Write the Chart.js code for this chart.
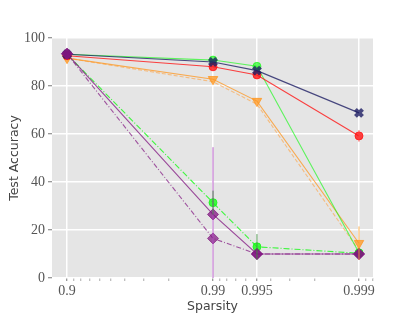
<!DOCTYPE html>
<html>
<head>
<meta charset="utf-8">
<script src="https://cdn.jsdelivr.net/npm/chart.js@4"></script>
<style>
  html, body { margin: 0; padding: 0; background: #fff; }
  #wrap { width: 415px; height: 318px; }
</style>
</head>
<body>
<div id="wrap"><canvas id="myChart" width="415" height="318"></canvas></div>
<script>
// sparsity levels and tick positions
const sparsity = [0.9, 0.99, 0.995, 0.999];
const majorTicks = [0.9, 0.99, 0.995, 0.999];
const minorTicks = [0.91, 0.92, 0.93, 0.94, 0.95, 0.96, 0.97, 0.98,
    0.991, 0.992, 0.993, 0.994, 0.996, 0.997, 0.998, 0.9991, 0.9992];
const yTicks = [0, 20, 40, 60, 80, 100];

// test accuracy per run
const navyAcc = [93.2, 90.0, 86.4, 68.8];
const redAcc = [92.6, 88.0, 84.6, 59.2];
const redErr = [0, 0, 0, 2.4];
const greenAcc = [93.2, 90.8, 88.2, 10.5];
const greenDashAcc = [93.2, 31.4, 13.0, 10.3];
const greenDashErr = [0, 5, 5.3, 0];
const orangeAcc = [91.6, 82.8, 73.7, 14.5];
const orangeDashAcc = [91.6, 81.8, 72.4, 11.5];
const orangeErr = [0, 0, 0, 7];
const purpleAcc = [93.4, 26.5, 10.0, 10.0];
const purpleDashAcc = [93.4, 16.5, 10.0, 10.0];
const purpleDashErr = [0, 38, 0, 0];

// x axis is -log10(1 - sparsity)
const tx = s => -Math.log10(1 - s);
const pts = (ys, errs) => ys.map((y, i) => ({ x: tx(sparsity[i]), y: y, err: errs ? errs[i] : 0 }));

const isMajor = v => majorTicks.some(m => Math.abs(tx(m) - v) < 1e-6);

const bgPlugin = {
    id: 'bg',
    beforeDraw(chart) {
        const { ctx, chartArea: a } = chart;
        ctx.save();
        ctx.fillStyle = '#e5e5e5';
        ctx.fillRect(a.left, a.top, a.right - a.left, a.bottom - a.top);
        ctx.restore();
    }
};

const errPlugin = {
    id: 'errbars',
    afterDatasetsDraw(chart) {
        const { ctx, chartArea: a, scales } = chart;
        ctx.save();
        ctx.beginPath();
        ctx.rect(a.left, a.top, a.right - a.left, a.bottom - a.top);
        ctx.clip();
        chart.data.datasets.forEach(ds => {
            if (!ds.errColor) return;
            ds.data.forEach(p => {
                if (!p.err) return;
                const x = scales.x.getPixelForValue(p.x);
                ctx.strokeStyle = ds.errColor;
                ctx.lineWidth = 1;
                ctx.beginPath();
                ctx.moveTo(x, scales.y.getPixelForValue(p.y - p.err));
                ctx.lineTo(x, scales.y.getPixelForValue(p.y + p.err));
                ctx.stroke();
            });
        });
        ctx.restore();
    }
};

const series = (label, data, color, style, opts) => Object.assign({
    label: label,
    data: data,
    borderColor: color,
    backgroundColor: color,
    pointBackgroundColor: color,
    pointBorderColor: color,
    borderWidth: 1.1,
    pointStyle: style,
    pointRadius: 4,
    pointBorderWidth: 1,
    tension: 0
}, opts || {});

const ctx = document.getElementById('myChart').getContext('2d');
const chart = new Chart(ctx, {
    type: 'line',
    data: {
        datasets: [
            series('purple', pts(purpleAcc), 'rgba(128,20,128,0.75)', 'rectRot', { pointRadius: 5.5 }),
            series('purple dashed', pts(purpleDashAcc, purpleDashErr), 'rgba(128,20,128,0.7)', 'rectRot',
                { pointRadius: 5.5, borderDash: [5, 2, 1, 2], errColor: 'rgba(170,60,190,0.8)' }),
            series('navy', pts(navyAcc), 'rgba(30,30,100,0.8)', 'crossRot', { pointRadius: 5, pointBorderWidth: 4 }),
            series('red', pts(redAcc, redErr), 'rgba(255,20,20,0.8)', 'circle', { errColor: 'rgba(255,60,60,0.8)' }),
            series('green', pts(greenAcc), 'rgba(20,250,20,0.65)', 'circle'),
            series('green dashed', pts(greenDashAcc, greenDashErr), 'rgba(20,250,20,0.8)', 'circle',
                { borderDash: [6, 2, 1, 2], errColor: 'rgba(60,140,60,0.85)' }),
            series('orange', pts(orangeAcc, orangeErr), 'rgba(255,150,30,0.75)', 'triangle',
                { rotation: 180, pointRadius: 5.5, errColor: 'rgba(255,160,40,0.8)' }),
            series('orange dashed', pts(orangeDashAcc), 'rgba(255,160,60,0.6)', 'triangle',
                { rotation: 180, pointRadius: 0, borderDash: [4, 2] })
        ]
    },
    options: {
        responsive: false,
        animation: false,
        layout: { padding: { top: 38, right: 42, left: 0, bottom: 0 } },
        plugins: { legend: { display: false }, tooltip: { enabled: false } },
        scales: {
            x: {
                type: 'linear',
                min: 0.897,
                max: 3.096,
                afterBuildTicks: axis => {
                    axis.ticks = majorTicks.concat(minorTicks).map(s => ({ value: tx(s) }));
                },
                afterFit: scale => { scale.height = 40; },
                grid: {
                    color: c => (c.tick && isMajor(c.tick.value)) ? '#ffffff' : 'rgba(0,0,0,0)',
                    lineWidth: 1.5,
                    tickColor: c => (c.tick && isMajor(c.tick.value)) ? '#777' : '#aaa',
                    tickLength: 3,
                    tickWidth: 1
                },
                border: { display: false },
                ticks: {
                    autoSkip: false,
                    maxRotation: 0,
                    padding: 2,
                    color: '#555',
                    font: { family: 'Liberation Serif', size: 14 },
                    callback: function (v) {
                        const m = majorTicks.find(s => Math.abs(tx(s) - v) < 1e-6);
                        return m !== undefined ? String(m) : '';
                    }
                },
                title: {
                    display: true,
                    text: 'Sparsity',
                    color: '#444',
                    padding: { top: 0, bottom: 4 },
                    font: { family: 'DejaVu Sans', size: 12.5 }
                }
            },
            y: {
                min: 0,
                max: 100,
                afterBuildTicks: axis => { axis.ticks = yTicks.map(v => ({ value: v })); },
                afterFit: scale => { scale.width = 52; },
                grid: {
                    color: '#ffffff',
                    lineWidth: 1.5,
                    tickColor: '#777',
                    tickLength: 4,
                    tickWidth: 1
                },
                border: { display: false },
                ticks: {
                    padding: 3,
                    color: '#555',
                    font: { family: 'Liberation Serif', size: 14 }
                },
                title: {
                    display: true,
                    text: 'Test Accuracy',
                    color: '#444',
                    padding: { top: 7, bottom: 0 },
                    font: { family: 'DejaVu Sans', size: 12.5 }
                }
            }
        }
    },
    plugins: [bgPlugin, errPlugin]
});
</script>
</body>
</html>
